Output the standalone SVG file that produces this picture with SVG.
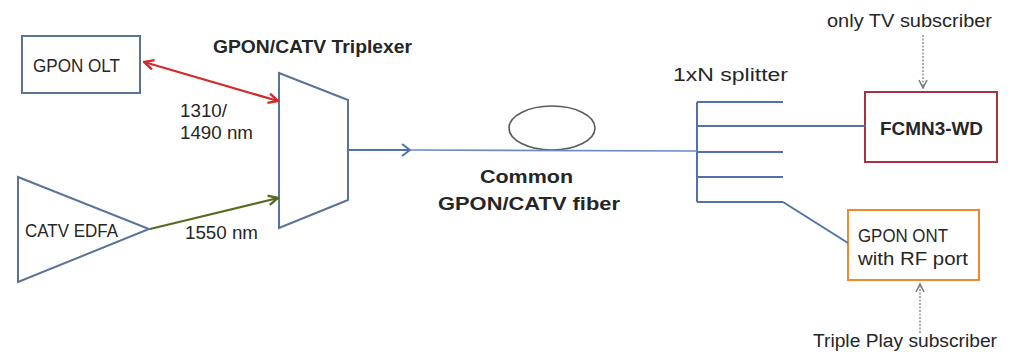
<svg xmlns="http://www.w3.org/2000/svg" width="1010" height="352" viewBox="0 0 1010 352">
<style>
text{font-family:"Liberation Sans",Arial,sans-serif;fill:#262626;font-size:18px}
.b{font-weight:bold}
.box{fill:#fff;stroke-width:2}
.blue{stroke:#4f73a8;fill:none;stroke-width:2}
.fib{stroke:#6b8cc0;fill:none;stroke-width:1.6}
.dot{stroke:#777;stroke-width:1.2;stroke-dasharray:2 1.5;fill:none}
</style>
<defs>
<marker id="ar" viewBox="0 0 10 10" refX="9" refY="5" markerWidth="6" markerHeight="6" orient="auto-start-reverse" markerUnits="userSpaceOnUse">
<path d="M1,1 L9,5 L1,9" fill="none" stroke="#d42a2a" stroke-width="2.2"/>
</marker>
<marker id="ag" viewBox="0 0 10 10" refX="9" refY="5" markerWidth="12" markerHeight="12" orient="auto" markerUnits="userSpaceOnUse">
<path d="M1,1 L9,5 L1,9" fill="none" stroke="#556b1e" stroke-width="2"/>
</marker>
<marker id="arr" viewBox="0 0 10 10" refX="9" refY="5" markerWidth="12" markerHeight="12" orient="auto-start-reverse" markerUnits="userSpaceOnUse">
<path d="M1,1 L9,5 L1,9" fill="none" stroke="#d42a2a" stroke-width="2"/>
</marker>
<marker id="ad" viewBox="0 0 10 10" refX="9" refY="5" markerWidth="10" markerHeight="10" orient="auto" markerUnits="userSpaceOnUse">
<path d="M1,1 L9,5 L1,9" fill="none" stroke="#777" stroke-width="1.5"/>
</marker>
</defs>

<g id="olt">
<rect class="box" x="22" y="36" width="118" height="57" stroke="#5b7396"/>
<text x="33" y="72" textLength="87" lengthAdjust="spacingAndGlyphs">GPON OLT</text>
</g>

<g id="edfa">
<polygon class="box" points="18,177 149,229 18,282" stroke="#5b7396"/>
<text x="25" y="237" textLength="93" lengthAdjust="spacingAndGlyphs">CATV EDFA</text>
</g>

<g id="triplexer">
<polygon class="box" points="279,73 348,100 348,200 279,228" stroke="#5b7396"/>
<text class="b" x="213" y="53" font-size="16.5" textLength="199" lengthAdjust="spacingAndGlyphs">GPON/CATV Triplexer</text>
</g>

<g id="fiber">
<ellipse cx="552" cy="128" rx="43" ry="22" fill="none" stroke="#5a5a5a" stroke-width="1.6"/>
<text class="b" x="480" y="183" textLength="93" lengthAdjust="spacingAndGlyphs">Common</text>
<text class="b" x="438" y="210" textLength="182" lengthAdjust="spacingAndGlyphs">GPON/CATV fiber</text>
</g>

<g id="splitter">
<path class="blue" d="M697,102 V202 M697,102 H783 M697,126 H783 M697,152 H783 M697,177 H783 M697,202 H783"/>
<text x="673" y="81" textLength="115" lengthAdjust="spacingAndGlyphs">1xN splitter</text>
</g>

<g id="fcmn3">
<rect class="box" x="865" y="92" width="132" height="70" stroke="#a83244"/>
<text class="b" x="880" y="135" font-size="16.5" textLength="103" lengthAdjust="spacingAndGlyphs">FCMN3-WD</text>
</g>

<g id="ont">
<rect class="box" x="848" y="210" width="131" height="70" stroke="#f0892e" stroke-width="2.5"/>
<text x="858" y="242" textLength="90" lengthAdjust="spacingAndGlyphs">GPON ONT</text>
<text x="858" y="265" textLength="110" lengthAdjust="spacingAndGlyphs">with RF port</text>
</g>

<g id="labels">
<text x="180" y="117" textLength="47" lengthAdjust="spacingAndGlyphs">1310/</text>
<text x="180" y="139" textLength="73" lengthAdjust="spacingAndGlyphs">1490 nm</text>
<text x="185" y="239" textLength="73" lengthAdjust="spacingAndGlyphs">1550 nm</text>
<text x="827" y="27" textLength="165" lengthAdjust="spacingAndGlyphs">only TV subscriber</text>
<text x="813" y="347" textLength="184" lengthAdjust="spacingAndGlyphs">Triple Play subscriber</text>
</g>

<g id="connectors">
<line x1="144" y1="62" x2="278" y2="101" stroke="#d42a2a" stroke-width="2.2" marker-start="url(#arr)" marker-end="url(#arr)"/>
<line x1="150" y1="229" x2="278" y2="198" stroke="#556b1e" stroke-width="2.2" marker-end="url(#ag)"/>
<line class="blue" x1="348" y1="150" x2="410" y2="150"/>
<path d="M402,144 L410,150 L402,156" fill="none" stroke="#4f73a8" stroke-width="2"/>
<line class="fib" x1="410" y1="150" x2="697" y2="151"/>
<line class="blue" x1="783" y1="126" x2="865" y2="126"/>
<line class="blue" x1="783" y1="202" x2="848" y2="243"/>
<line class="dot" x1="923" y1="35" x2="923" y2="88" marker-end="url(#ad)"/>
<line class="dot" x1="920" y1="333" x2="920" y2="284" marker-end="url(#ad)"/>
</g>
</svg>
